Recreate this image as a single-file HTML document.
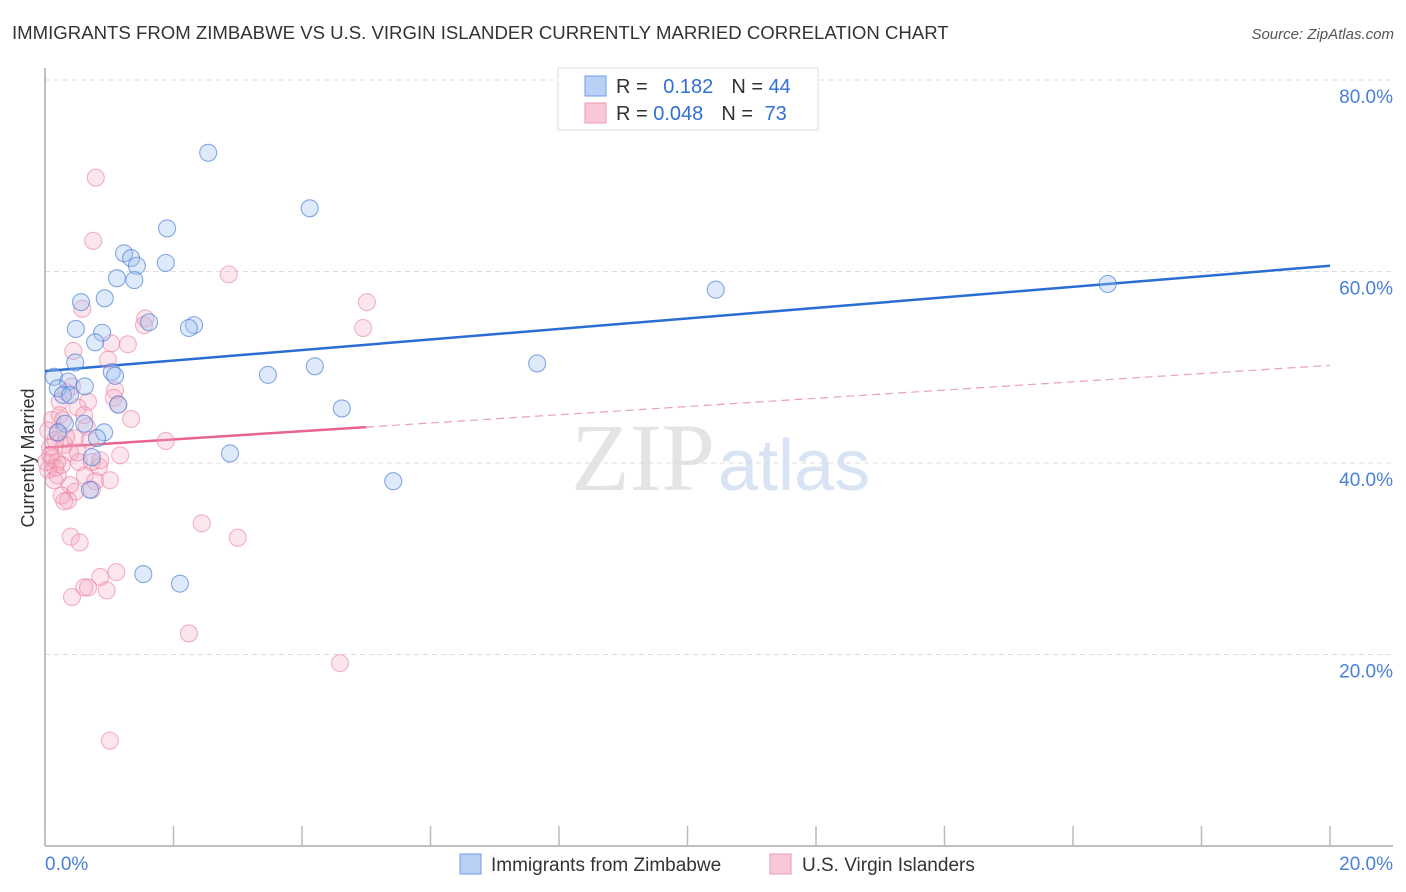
<!DOCTYPE html>
<html><head><meta charset="utf-8"><style>
body{margin:0;background:#fff;font-family:"Liberation Sans",sans-serif;}
svg{display:block}
</style></head><body>
<svg id="c" width="1406" height="892">
<text x="12" y="39" font-size="18.6" fill="#333">IMMIGRANTS FROM ZIMBABWE VS U.S. VIRGIN ISLANDER CURRENTLY MARRIED CORRELATION CHART</text>
<text x="1394" y="39" font-size="15" fill="#555" font-style="italic" text-anchor="end">Source: ZipAtlas.com</text>
<text x="34" y="458" font-size="18" fill="#333" text-anchor="middle" transform="rotate(-90 34 458)">Currently Married</text>
<text x="715" y="490" font-size="96" fill="#e4e4e4" text-anchor="end" font-family="Liberation Serif,serif">ZIP</text>
<text x="718" y="490" font-size="72" fill="#d8e4f4">atlas</text>
<g id="grid"></g><g id="axes"></g><g id="lines"></g><g id="pts"></g>
<g>
<rect x="558" y="68" width="260" height="62" fill="#fff" stroke="#ddd"/>
<rect x="585" y="76" width="21" height="20" fill="#b9d1f5" stroke="#6d9de6"/>
<rect x="585" y="103" width="21" height="20" fill="#f9c8d7" stroke="#ee9ab4"/>
<text x="616" y="93" font-size="20" fill="#333">R = <tspan fill="#2f6fd6" dx="10">0.182</tspan><tspan dx="18" fill="#333">N = </tspan><tspan fill="#2f6fd6">44</tspan></text>
<text x="616" y="120" font-size="20" fill="#333">R = <tspan fill="#2f6fd6">0.048</tspan><tspan dx="18" fill="#333">N = </tspan><tspan fill="#2f6fd6" dx="6">73</tspan></text>
</g>
<g>
<rect x="460" y="854" width="21" height="20" fill="#b9d1f5" stroke="#6d9de6"/>
<text x="491" y="871" font-size="19" fill="#333">Immigrants from Zimbabwe</text>
<rect x="770" y="854" width="21" height="20" fill="#f9c8d7" stroke="#ee9ab4"/>
<text x="802" y="871" font-size="19" fill="#333">U.S. Virgin Islanders</text>
</g>
</svg>
<script>
const xTicks=[0,2,4,6,8,10,12,14,16,18,20];
const yTicks=[20,40,60,80];
const blueX=[2.54,4.12,1.90,1.23,1.34,1.12,1.43,1.39,1.88,0.56,0.93,10.44,16.54,1.62,2.32,2.24,0.48,0.89,0.78,0.47,4.20,7.66,3.47,1.04,1.09,0.14,0.36,0.20,0.28,0.39,1.14,4.62,0.31,0.61,0.92,0.81,0.20,2.88,0.73,5.42,0.70,1.53,2.10,0.62];
const blueY=[72.4,66.6,64.5,61.9,61.4,59.3,60.6,59.1,60.9,56.8,57.2,58.1,58.7,54.7,54.4,54.1,54.0,53.6,52.6,50.5,50.1,50.4,49.2,49.5,49.1,49.0,48.5,47.8,47.1,47.1,46.1,45.7,44.1,44.1,43.2,42.6,43.2,41.0,40.6,38.1,37.2,28.4,27.4,48.0];
const pinkX=[0.79,0.75,2.86,5.01,4.95,0.58,1.56,1.54,1.29,1.03,0.44,0.98,1.09,0.42,0.33,0.23,0.67,1.07,1.14,0.51,0.61,1.34,0.11,0.65,0.20,0.16,0.47,1.88,0.30,0.08,0.39,0.11,0.19,0.53,0.73,0.84,0.26,0.05,0.16,0.02,0.78,0.39,0.47,0.73,0.26,0.36,2.44,0.40,0.54,3.00,1.11,0.86,0.67,0.61,0.96,0.42,2.24,4.59,1.01,0.23,0.05,0.33,0.62,0.14,0.86,0.08,0.20,0.51,0.28,1.01,1.17,0.70,0.30];
const pinkY=[69.8,63.2,59.7,56.8,54.1,56.1,55.1,54.4,52.4,52.5,51.7,50.8,47.6,48.0,47.4,46.4,46.4,46.8,46.1,45.8,45.0,44.6,44.5,43.8,43.1,42.4,42.6,42.3,41.9,41.6,41.1,40.5,40.1,40.1,40.1,39.6,39.8,39.3,39.5,40.1,38.1,37.7,37.0,37.2,36.6,36.1,33.7,32.3,31.7,32.2,28.6,28.1,27.0,27.0,26.7,26.0,22.2,19.1,11.0,45.0,43.4,42.7,38.7,38.2,40.3,40.8,38.7,41.1,44.5,38.2,40.8,42.4,36.0];
const blueTrend=[49.6,60.6];
const pinkTrend=[41.6,50.2];
const pinkSolidEnd=5.0;
const X=v=>45+v/20*1285, Y=v=>846-v/20*191.5;
const NS="http://www.w3.org/2000/svg";
function mk(t,a,p){const e=document.createElementNS(NS,t);for(const k in a)e.setAttribute(k,a[k]);document.getElementById(p).appendChild(e);return e;}
yTicks.forEach(t=>{
 const l=mk('line',{x1:45,x2:1393,y1:Y(t),y2:Y(t),stroke:'#ddd','stroke-dasharray':'5,4'},'grid');
 
 
 const tx=mk('text',{x:1393,y:Y(t)+23,'font-size':19,fill:'#4a7fd8','text-anchor':'end'},'grid');
 tx.textContent=t.toFixed(1)+'%';
 
 
});
mk('line',{x1:45,x2:45,y1:68,y2:846,stroke:'#aaa','stroke-width':1.5},'axes');
mk('line',{x1:45,x2:1393,y1:846,y2:846,stroke:'#aaa','stroke-width':1.5},'axes');
xTicks.forEach(t=>{
 const l=mk('line',{x1:X(t),x2:X(t),y1:826,y2:846,stroke:'#bbb','stroke-width':1.5},'axes');
 
 
});
[[0,'start',45],[20,'end',1393]].forEach(([t,a,x])=>{
 const tx=mk('text',{x:x,y:870,'font-size':19,fill:'#4a7fd8','text-anchor':a},'axes');
 tx.textContent=t.toFixed(1)+'%';
 
 
});
const pv=x=>pinkTrend[0]+(pinkTrend[1]-pinkTrend[0])*x/20;
let l1=mk('line',{x1:X(0),y1:Y(blueTrend[0]),x2:X(20),y2:Y(blueTrend[1]),stroke:'#2a6dd4','stroke-width':2.5},'lines');


let l2=mk('line',{x1:X(0),y1:Y(pv(0)),x2:X(pinkSolidEnd),y2:Y(pv(pinkSolidEnd)),stroke:'#e8648e','stroke-width':2.5},'lines');


let l3=mk('line',{x1:X(pinkSolidEnd),y1:Y(pv(pinkSolidEnd)),x2:X(20),y2:Y(pv(20)),stroke:'#eaa0b8','stroke-width':1.2,'stroke-dasharray':'8,5'},'lines');


pinkX.forEach((x,i)=>{
 const c=mk('circle',{cx:X(x),cy:Y(pinkY[i]),r:8.5,fill:'rgba(245,165,190,0.28)',stroke:'rgba(235,130,160,0.6)','stroke-width':1.1},'pts');
 
 
});
blueX.forEach((x,i)=>{
 const c=mk('circle',{cx:X(x),cy:Y(blueY[i]),r:8.5,fill:'rgba(160,195,240,0.35)',stroke:'rgba(70,125,215,0.65)','stroke-width':1.1},'pts');
 
 
});
</script>
</body></html>
